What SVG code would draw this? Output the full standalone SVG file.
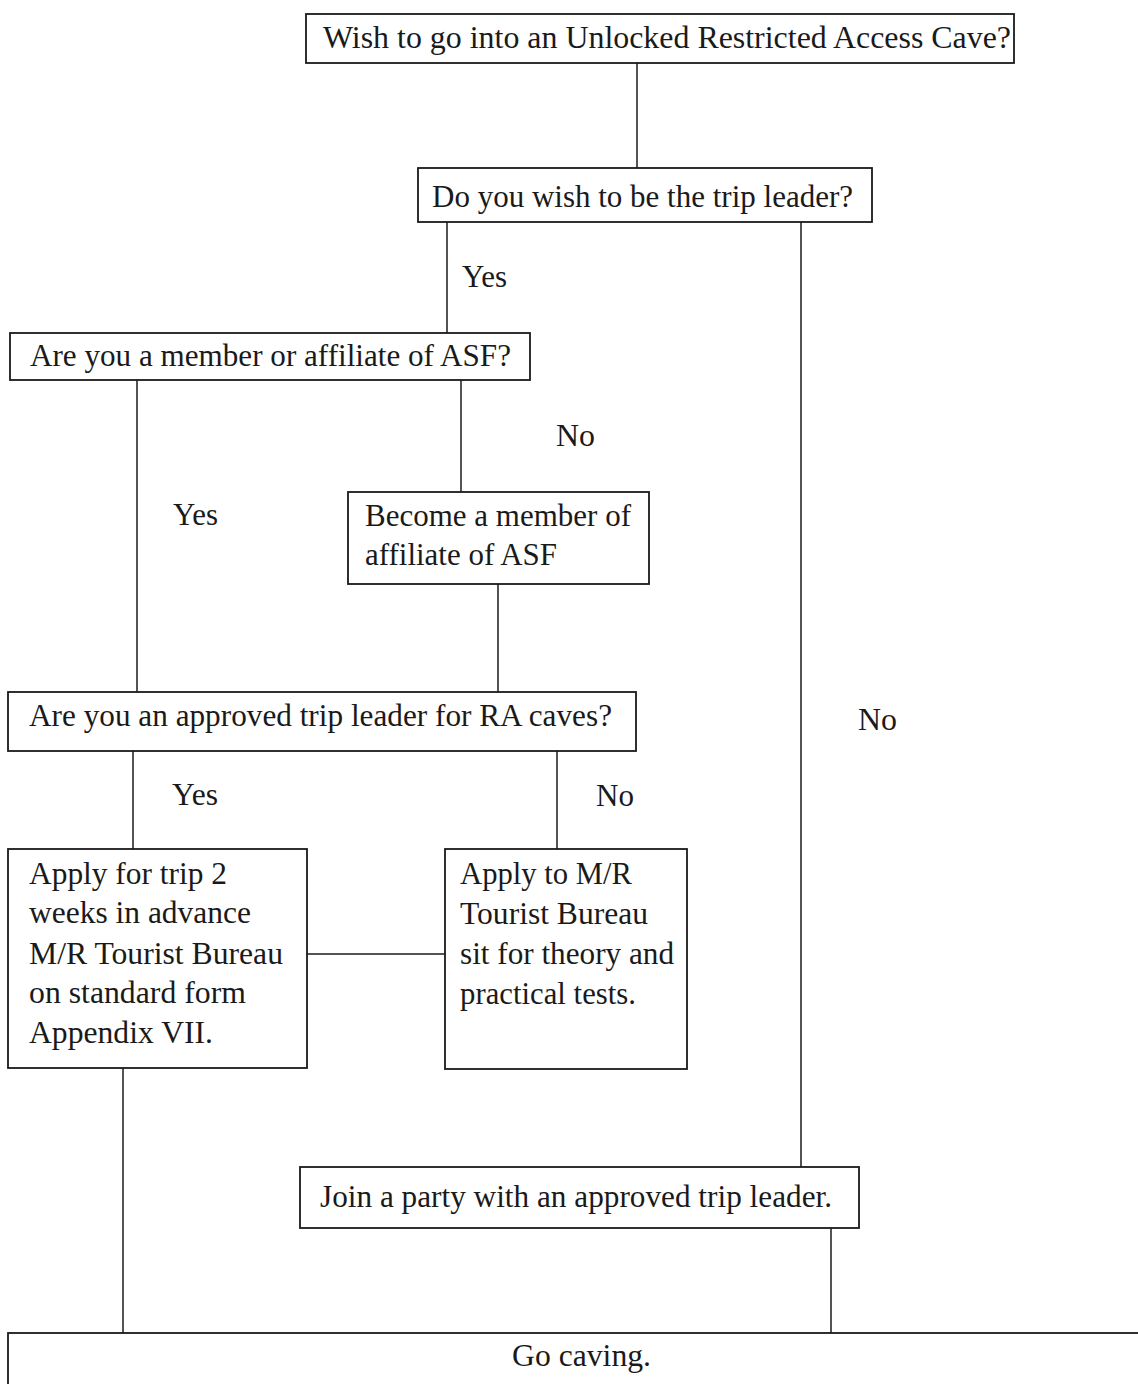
<svg xmlns="http://www.w3.org/2000/svg" width="1138" height="1384" viewBox="0 0 1138 1384">
<style>
.box{fill:#fff;stroke:#1a1a1a;stroke-width:1.8}
.con{stroke:#1a1a1a;stroke-width:1.5;fill:none}
text{font-family:"Liberation Serif","Times New Roman",serif;font-size:31px;fill:#1a1a1a}
</style>
<rect width="1138" height="1384" fill="#fff"/>
<g id="connectors">
<line class="con" x1="637" y1="63" x2="637" y2="168"/>
<line class="con" x1="447" y1="222" x2="447" y2="333"/>
<line class="con" x1="801" y1="222" x2="801" y2="1167"/>
<line class="con" x1="137" y1="380" x2="137" y2="692"/>
<line class="con" x1="461" y1="380" x2="461" y2="492"/>
<line class="con" x1="498" y1="584" x2="498" y2="692"/>
<line class="con" x1="133" y1="751" x2="133" y2="849"/>
<line class="con" x1="557" y1="751" x2="557" y2="849"/>
<line class="con" x1="307" y1="954" x2="445" y2="954"/>
<line class="con" x1="123" y1="1068" x2="123" y2="1333"/>
<line class="con" x1="831" y1="1228" x2="831" y2="1333"/>
<text x="462" y="287" textLength="45" lengthAdjust="spacingAndGlyphs">Yes</text>
<text x="556" y="446" textLength="39" lengthAdjust="spacingAndGlyphs">No</text>
<text x="173" y="525" textLength="45" lengthAdjust="spacingAndGlyphs">Yes</text>
<text x="858" y="730" textLength="39" lengthAdjust="spacingAndGlyphs">No</text>
<text x="172" y="805" textLength="46" lengthAdjust="spacingAndGlyphs">Yes</text>
<text x="596" y="806" textLength="38" lengthAdjust="spacingAndGlyphs">No</text>
</g>
<g id="n1">
<rect class="box" x="306" y="14" width="708" height="49"/>
<text x="323" y="48" textLength="688" lengthAdjust="spacingAndGlyphs">Wish to go into an Unlocked Restricted Access Cave?</text>
</g>
<g id="n2">
<rect class="box" x="418" y="168" width="454" height="54"/>
<text x="432" y="207" textLength="421" lengthAdjust="spacingAndGlyphs">Do you wish to be the trip leader?</text>
</g>
<g id="n3">
<rect class="box" x="10" y="333" width="520" height="47"/>
<text x="30" y="366" textLength="481" lengthAdjust="spacingAndGlyphs">Are you a member or affiliate of ASF?</text>
</g>
<g id="n4">
<rect class="box" x="348" y="492" width="301" height="92"/>
<text x="365" y="526" textLength="266" lengthAdjust="spacingAndGlyphs">Become a member of</text>
<text x="365" y="565" textLength="192" lengthAdjust="spacingAndGlyphs">affiliate of ASF</text>
</g>
<g id="n5">
<rect class="box" x="8" y="692" width="628" height="59"/>
<text x="29" y="726" textLength="583" lengthAdjust="spacingAndGlyphs">Are you an approved trip leader for RA caves?</text>
</g>
<g id="n6">
<rect class="box" x="8" y="849" width="299" height="219"/>
<text x="29" y="884" textLength="198" lengthAdjust="spacingAndGlyphs">Apply for trip 2</text>
<text x="29" y="923" textLength="222" lengthAdjust="spacingAndGlyphs">weeks in advance</text>
<text x="29" y="964" textLength="254" lengthAdjust="spacingAndGlyphs">M/R Tourist Bureau</text>
<text x="29" y="1003" textLength="217" lengthAdjust="spacingAndGlyphs">on standard form</text>
<text x="29" y="1043" textLength="184" lengthAdjust="spacingAndGlyphs">Appendix VII.</text>
</g>
<g id="n7">
<rect class="box" x="445" y="849" width="242" height="220"/>
<text x="460" y="884" textLength="172" lengthAdjust="spacingAndGlyphs">Apply to M/R</text>
<text x="460" y="924" textLength="188" lengthAdjust="spacingAndGlyphs">Tourist Bureau</text>
<text x="460" y="964" textLength="214" lengthAdjust="spacingAndGlyphs">sit for theory and</text>
<text x="460" y="1004" textLength="176" lengthAdjust="spacingAndGlyphs">practical tests.</text>
</g>
<g id="n8">
<rect class="box" x="300" y="1167" width="559" height="61"/>
<text x="320" y="1207" textLength="512" lengthAdjust="spacingAndGlyphs">Join a party with an approved trip leader.</text>
</g>
<g id="n9">
<rect class="box" x="8" y="1333" width="1140" height="60"/>
<text x="512" y="1366" textLength="139" lengthAdjust="spacingAndGlyphs">Go caving.</text>
</g>
</svg>
